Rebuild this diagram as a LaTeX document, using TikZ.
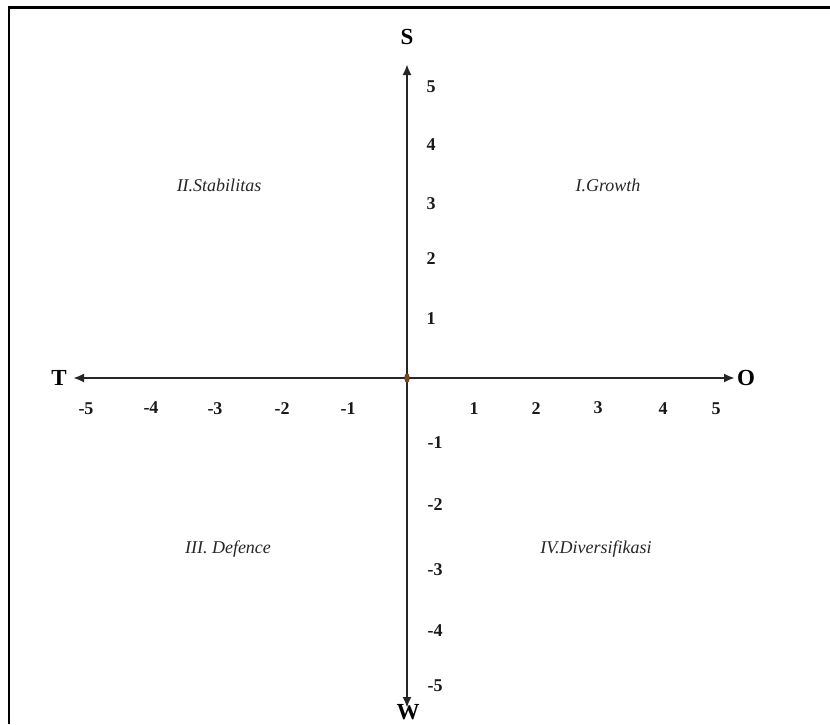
\documentclass[tikz,border=0pt]{standalone}
\usepackage{fontspec}
\setmainfont{Liberation Serif}
\usetikzlibrary{arrows.meta}
\begin{document}
\begin{tikzpicture}[x=1pt,y=-1pt,
  axis/.style={line width=2.6pt, draw=black!85, -{Latex[length=11pt,width=9pt]}},
  tick/.style={font=\bfseries\fontsize{18}{18}\selectfont, text=black!90, inner sep=0pt},
  letter/.style={font=\bfseries\fontsize{23}{23}\selectfont, inner sep=0pt},
  quad/.style={font=\itshape\fontsize{18}{18}\selectfont, text=black!85, inner sep=0pt}]
\useasboundingbox (0,0) rectangle (830,724);
% frame
\draw[line width=2.5pt] (9,724) -- (9,7.5) -- (830,7.5);
% axes
\coordinate (o) at (407,378);
\coordinate (top) at (407,64);
\coordinate (bot) at (407,708);
\coordinate (left) at (73,378);
\coordinate (right) at (735,378);
\draw[axis] (o) -- (top);
\draw[axis] (o) -- (bot);
\draw[axis] (o) -- (left);
\draw[axis] (o) -- (right);
\draw[fill=brown!60!black, draw=brown!40!black] (o) ellipse (2.5pt and 4.5pt);
% axis letters
\node[letter] (S) at (407,37) {S};
\node[letter] (W) at (408,712) {W};
\node[letter] (T) at (59,378) {T};
\node[letter] (O) at (746,378) {O};
% y ticks
\node[tick] (y5) at (431,87) {5};
\node[tick] (y4) at (431,145) {4};
\node[tick] (y3) at (431,204) {3};
\node[tick] (y2) at (431,259) {2};
\node[tick] (y1) at (431,319) {1};
\node[tick] (ym1) at (435,443) {-1};
\node[tick] (ym2) at (435,505) {-2};
\node[tick] (ym3) at (435,570) {-3};
\node[tick] (ym4) at (435,631) {-4};
\node[tick] (ym5) at (435,686) {-5};
% x ticks
\node[tick] (xm5) at (86,409) {-5};
\node[tick] (xm4) at (151,408) {-4};
\node[tick] (xm3) at (215,409) {-3};
\node[tick] (xm2) at (282,409) {-2};
\node[tick] (xm1) at (348,409) {-1};
\node[tick] (x1) at (474,409) {1};
\node[tick] (x2) at (536,409) {2};
\node[tick] (x3) at (598,408) {3};
\node[tick] (x4) at (663,409) {4};
\node[tick] (x5) at (716,409) {5};
% quadrants
\node[quad] (q2) at (219,185) {II.Stabilitas};
\node[quad] (q1) at (608,185) {I.Growth};
\node[quad] (q3) at (228,549) {III. Defence};
\node[quad] (q4) at (596,549) {IV.Diversifikasi};
\end{tikzpicture}
\end{document}
